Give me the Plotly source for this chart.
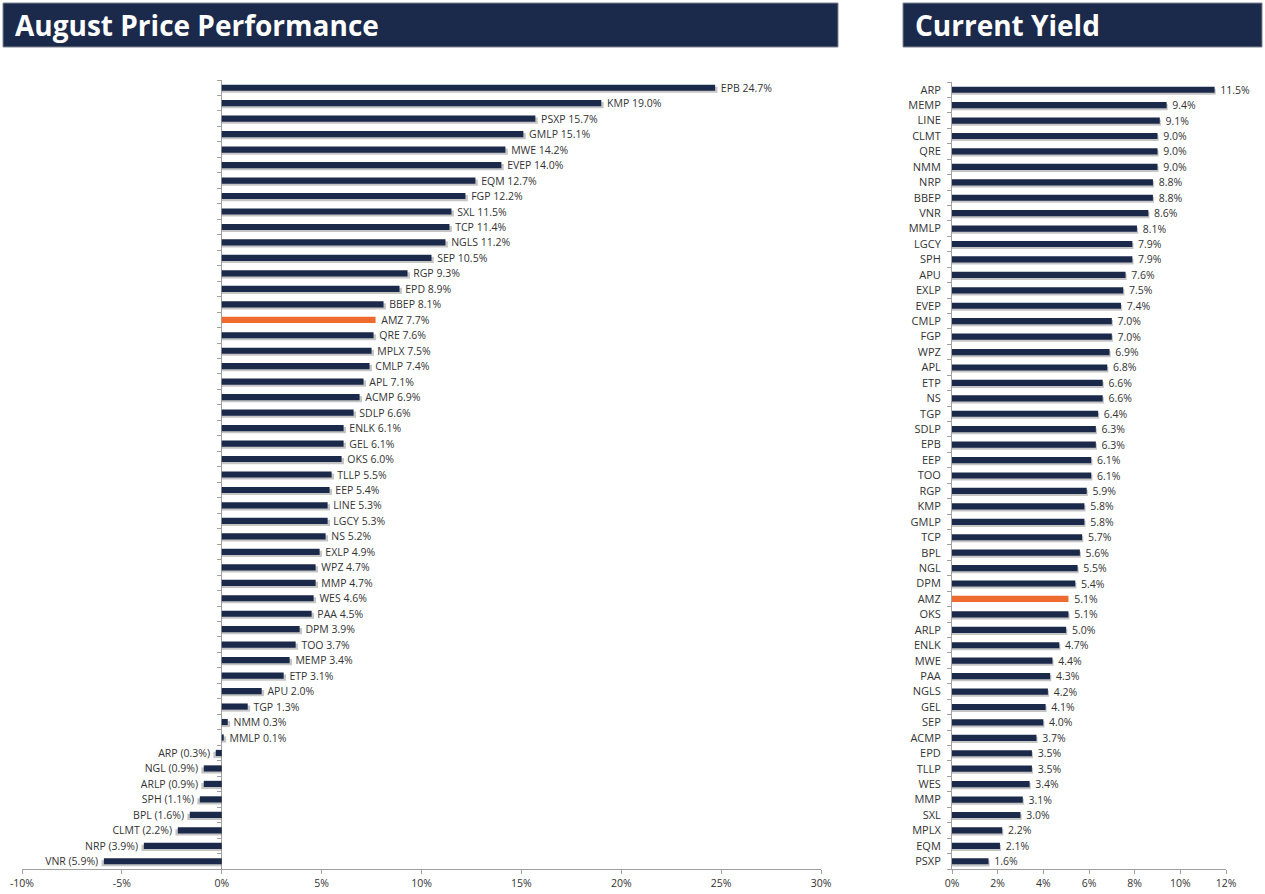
import plotly.graph_objects as go

W, H = 1265, 894

# ---- data ----
perf_names = ["EPB", "KMP", "PSXP", "GMLP", "MWE", "EVEP", "EQM", "FGP", "SXL", "TCP",
              "NGLS", "SEP", "RGP", "EPD", "BBEP", "AMZ", "QRE", "MPLX", "CMLP", "APL",
              "ACMP", "SDLP", "ENLK", "GEL", "OKS", "TLLP", "EEP", "LINE", "LGCY", "NS",
              "EXLP", "WPZ", "MMP", "WES", "PAA", "DPM", "TOO", "MEMP", "ETP", "APU",
              "TGP", "NMM", "MMLP", "ARP", "NGL", "ARLP", "SPH", "BPL", "CLMT", "NRP", "VNR"]
perf_values = [24.7, 19.0, 15.7, 15.1, 14.2, 14.0, 12.7, 12.2, 11.5, 11.4,
               11.2, 10.5, 9.3, 8.9, 8.1, 7.7, 7.6, 7.5, 7.4, 7.1,
               6.9, 6.6, 6.1, 6.1, 6.0, 5.5, 5.4, 5.3, 5.3, 5.2,
               4.9, 4.7, 4.7, 4.6, 4.5, 3.9, 3.7, 3.4, 3.1, 2.0,
               1.3, 0.3, 0.1, -0.3, -0.9, -0.9, -1.1, -1.6, -2.2, -3.9, -5.9]

yield_names = ["ARP", "MEMP", "LINE", "CLMT", "QRE", "NMM", "NRP", "BBEP", "VNR", "MMLP",
               "LGCY", "SPH", "APU", "EXLP", "EVEP", "CMLP", "FGP", "WPZ", "APL", "ETP",
               "NS", "TGP", "SDLP", "EPB", "EEP", "TOO", "RGP", "KMP", "GMLP", "TCP",
               "BPL", "NGL", "DPM", "AMZ", "OKS", "ARLP", "ENLK", "MWE", "PAA", "NGLS",
               "GEL", "SEP", "ACMP", "EPD", "TLLP", "WES", "MMP", "SXL", "MPLX", "EQM", "PSXP"]
yield_values = [11.5, 9.4, 9.1, 9.0, 9.0, 9.0, 8.8, 8.8, 8.6, 8.1,
                7.9, 7.9, 7.6, 7.5, 7.4, 7.0, 7.0, 6.9, 6.8, 6.6,
                6.6, 6.4, 6.3, 6.3, 6.1, 6.1, 5.9, 5.8, 5.8, 5.7,
                5.6, 5.5, 5.4, 5.1, 5.1, 5.0, 4.7, 4.4, 4.3, 4.2,
                4.1, 4.0, 3.7, 3.5, 3.5, 3.4, 3.1, 3.0, 2.2, 2.1, 1.6]

perf_ticks = [-10, -5, 0, 5, 10, 15, 20, 25, 30]
perf_ticklabels = ["-10%", "-5%", "0%", "5%", "10%", "15%", "20%", "25%", "30%"]
yield_ticks = [0, 2, 4, 6, 8, 10, 12]
yield_ticklabels = ["0%", "2%", "4%", "6%", "8%", "10%", "12%"]

HIGHLIGHT = "AMZ"
NAVY = "#1B2A4A"
ORANGE = "#EE6A2E"
SHADOW = "rgba(110,110,110,0.40)"
FONT = "Open Sans"
TXT = "#333333"
NB = "\u00a0"

BW = 0.40


def fmt_perf(n, v):
    return f"{NB}{n} {v:.1f}%" if v >= 0 else f"{n} ({-v:.1f}%){NB}"


fig = go.Figure()

# ---- left panel ----
py = list(range(len(perf_names)))
sh_x = [v + (0.12 if v >= 0 else -0.12) for n, v in zip(perf_names, perf_values) if n != HIGHLIGHT]
sh_y = [i for i, n in enumerate(perf_names) if n != HIGHLIGHT]
fig.add_trace(go.Bar(x=sh_x, y=sh_y, orientation="h", width=BW, offset=-BW / 2 + 0.13,
                     marker=dict(color=SHADOW, line=dict(width=0)), hoverinfo="skip",
                     xaxis="x", yaxis="y", showlegend=False))
fig.add_trace(go.Bar(
    x=perf_values, y=py, orientation="h", width=BW, offset=-BW / 2,
    marker=dict(color=[ORANGE if n == HIGHLIGHT else NAVY for n in perf_names], line=dict(width=0)),
    text=[fmt_perf(n, v) for n, v in zip(perf_names, perf_values)],
    textposition="outside", cliponaxis=False, constraintext="none",
    textfont=dict(family=FONT, size=10.5, color=TXT),
    xaxis="x", yaxis="y", showlegend=False))

# ---- right panel ----
ry = list(range(len(yield_names)))
sh_x2 = [v + 0.05 for n, v in zip(yield_names, yield_values) if n != HIGHLIGHT]
sh_y2 = [i for i, n in enumerate(yield_names) if n != HIGHLIGHT]
fig.add_trace(go.Bar(x=sh_x2, y=sh_y2, orientation="h", width=BW, offset=-BW / 2 + 0.13,
                     marker=dict(color=SHADOW, line=dict(width=0)), hoverinfo="skip",
                     xaxis="x2", yaxis="y2", showlegend=False))
fig.add_trace(go.Bar(
    x=yield_values, y=ry, orientation="h", width=BW, offset=-BW / 2,
    marker=dict(color=[ORANGE if n == HIGHLIGHT else NAVY for n in yield_names], line=dict(width=0)),
    text=[f"{NB}{v:.1f}%" for v in yield_values],
    textposition="outside", cliponaxis=False, constraintext="none",
    textfont=dict(family=FONT, size=10.5, color=TXT),
    xaxis="x2", yaxis="y2", showlegend=False))

ydom = [1 - 869 / H, 1 - 80 / H]
ydom2 = [1 - 869 / H, 1 - 82 / H]
axis_line = dict(showline=True, linecolor="#A0A0A0", linewidth=1)

fig.update_layout(
    width=W, height=H, margin=dict(l=0, r=0, t=0, b=0, autoexpand=False),
    paper_bgcolor="white", plot_bgcolor="white",
    barmode="overlay", font=dict(family=FONT, size=10.5, color=TXT),
    xaxis=dict(domain=[22 / W, 821 / W], range=[-10, 30], tickvals=perf_ticks,
               ticktext=perf_ticklabels, ticks="outside", ticklen=4, tickcolor="#A0A0A0",
               showgrid=False, zeroline=True, zerolinecolor="#A0A0A0", zerolinewidth=1,
               anchor="y", automargin=False, **axis_line),
    yaxis=dict(domain=ydom, range=[len(perf_names) - 0.5, -0.5], showticklabels=False,
               tickvals=[], showgrid=False, zeroline=False, showline=False,
               anchor="x", automargin=False),
    xaxis2=dict(domain=[952 / W, 1226 / W], range=[0, 12], tickvals=yield_ticks,
                ticktext=yield_ticklabels, ticks="outside", ticklen=4, tickcolor="#A0A0A0",
                showgrid=False, zeroline=False, anchor="y2", automargin=False, **axis_line),
    yaxis2=dict(domain=ydom2, range=[len(yield_names) - 0.5, -0.5], tickvals=ry,
                ticktext=yield_names, ticks="", showgrid=False, zeroline=False,
                anchor="x2", ticklabelstandoff=8, automargin=False,
                tickfont=dict(family=FONT, size=11, color=TXT),
                minor=dict(tick0=-0.5, dtick=1, ticks="outside", ticklen=4, tickcolor="#A0A0A0"),
                **axis_line),
)

# tick marks along the zero line of the left panel (category boundaries)
fig.update_layout(yaxis3=dict(domain=ydom, range=[len(perf_names) - 0.5, -0.5], overlaying="y",
                              anchor="free", position=(221 / W), showticklabels=False,
                              tickvals=[i - 0.5 for i in range(len(perf_names) + 1)],
                              ticks="outside", ticklen=4, tickcolor="#A0A0A0", automargin=False,
                              showgrid=False, zeroline=False, showline=False))
fig.add_trace(go.Scatter(x=[None], y=[None], xaxis="x", yaxis="y3", showlegend=False))

# title bars
for x0, x1, title in [(3, 838, "August Price Performance"), (903, 1262, "Current Yield")]:
    fig.add_shape(type="rect", xref="paper", yref="paper",
                  x0=x0 / W, x1=x1 / W, y0=1 - 47 / H, y1=1 - 3 / H,
                  fillcolor="#1B2A4B", line=dict(color="#7F8590", width=1), layer="below")
    fig.add_annotation(xref="paper", yref="paper", x=(x0 + 10) / W, y=1 - 25 / H,
                       xanchor="left", yanchor="middle", text=title, showarrow=False,
                       font=dict(family=FONT, size=28, color="white", weight="bold"))

fig.write_html("out.html", config={"displayModeBar": False},
               post_script="document.body.style.margin='0';document.body.style.overflow='hidden';")
